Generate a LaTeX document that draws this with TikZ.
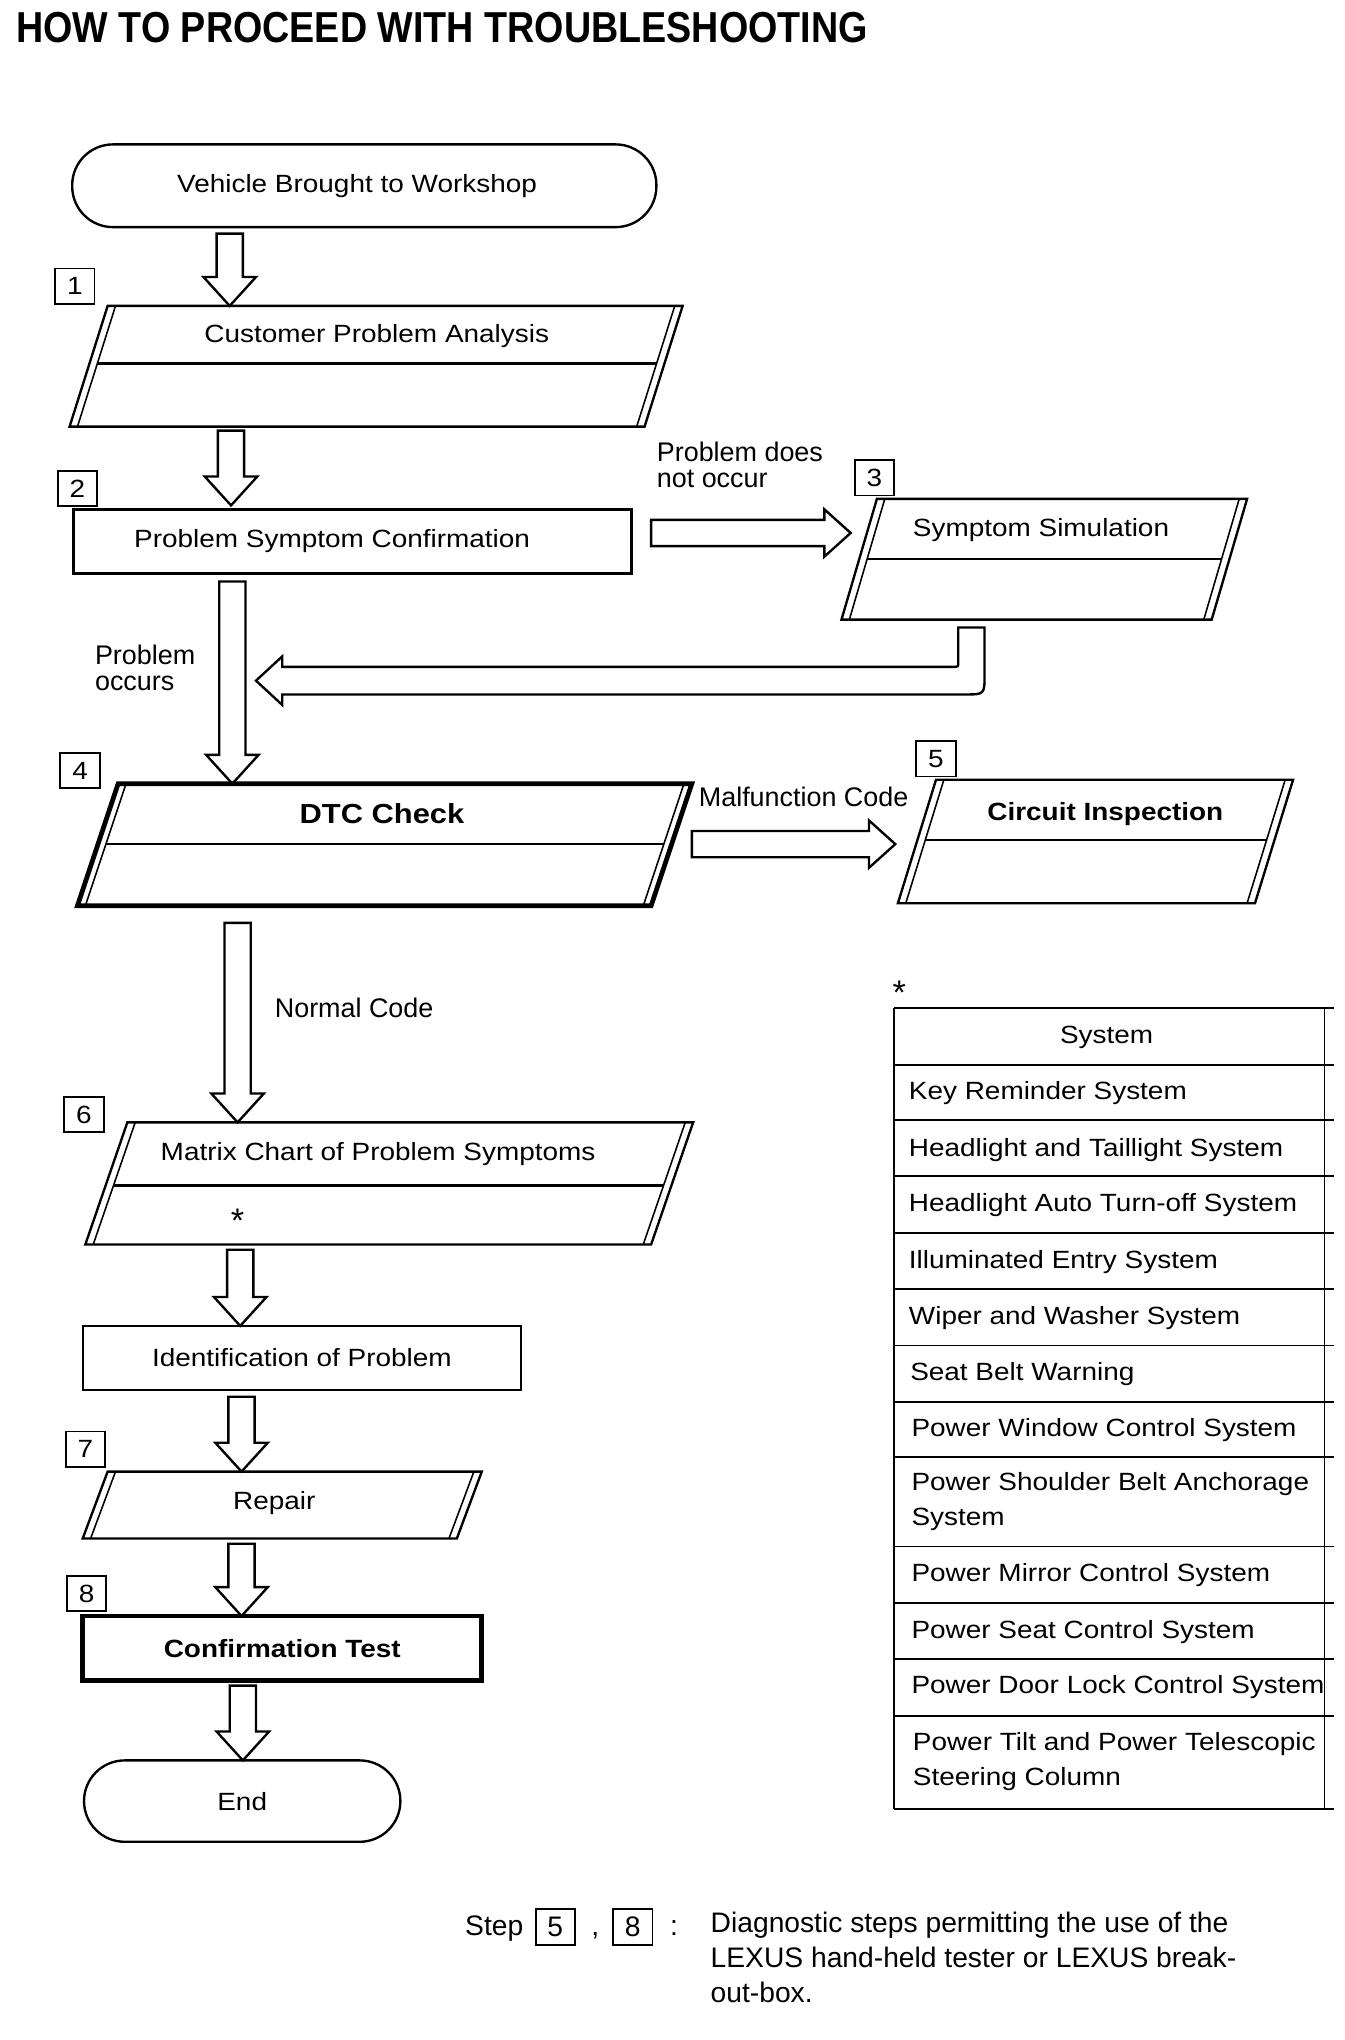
\documentclass[tikz,border=0pt]{standalone}
\usepackage{fontspec}
\setmainfont{Liberation Sans}
\newfontfamily\bodyf[FakeStretch=1.12]{Liberation Sans}
\newfontfamily\titlef[FakeStretch=0.87]{Liberation Sans}
\usetikzlibrary{calc}
\tikzset{
 box/.style={draw=black, line width=0.9pt},
 thickbox/.style={draw=black, line width=1.8pt},
 innerl/.style={draw=black, line width=0.6pt},
 blk/.style={draw=black, line width=0.9pt, fill=white, line join=miter},
 txt/.style={inner sep=0pt, font=\bodyf\fontsize{9.5pt}{11pt}\selectfont},
 btxt/.style={inner sep=0pt, font=\bodyf\bfseries\fontsize{9.5pt}{11pt}\selectfont},
 lbl/.style={inner sep=0pt, anchor=west, align=left, font=\fontsize{10.25pt}{11pt}\selectfont},
 numbox/.style={draw, line width=0.7pt, minimum width=15pt, minimum height=13.5pt, inner sep=0pt, font=\bodyf\fontsize{9.5pt}{11pt}\selectfont},
 cell/.style={anchor=west, inner sep=0pt, align=left, font=\bodyf\fontsize{9.5pt}{13.5pt}\selectfont},
 tline/.style={line width=0.7pt},
 ftfont/.style={font=\fontsize{10.75pt}{13.25pt}\selectfont},
}
\newcommand\vblk[2]{\draw[blk] let \p1=(#1), \p2=(#2) in (\x1-5pt,\y1) -- (\x1+5pt,\y1) -- (\x1+5pt,\y2+11pt) -- (\x1+10pt,\y2+11pt) -- (\x1,\y2) -- (\x1-10pt,\y2+11pt) -- (\x1-5pt,\y2+11pt) -- cycle;}
\newcommand\hblk[2]{\draw[blk] let \p1=(#1), \p2=(#2) in (\x1,\y1+5pt) -- (\x2-10pt,\y1+5pt) -- (\x2-10pt,\y1+9pt) -- (\x2,\y1) -- (\x2-10pt,\y1-9pt) -- (\x2-10pt,\y1-5pt) -- (\x1,\y1-5pt) -- cycle;}
% name, xtl, ytop, xtr, ybot, slant, style
\newcommand\paral[7]{%
  \coordinate (#1tl) at (#2,#3);
  \coordinate (#1tr) at (#4,#3);
  \coordinate (#1br) at (#4-#6,#5);
  \coordinate (#1bl) at (#2-#6,#5);
  \coordinate (#1itl) at (#2+6,#3);
  \coordinate (#1ibl) at (#2+6-#6,#5);
  \coordinate (#1itr) at (#4-6,#3);
  \coordinate (#1ibr) at (#4-6-#6,#5);
  \draw[#7] (#1tl) -- (#1tr) -- (#1br) -- (#1bl) -- cycle;
  \draw[innerl] (#1itl) -- (#1ibl) (#1itr) -- (#1ibr);
}
\newcommand\pdiv[3]{\draw[#3] ($(#1itl)!#2!(#1ibl)$) -- ($(#1itr)!#2!(#1ibr)$);}
\begin{document}
\begin{tikzpicture}[x=0.5pt,y=-0.5pt]
\fill[white] (0,0) rectangle (1024,1554);
\useasboundingbox (0,0) rectangle (1024,1554);

% title
\node[inner sep=0pt, anchor=west, font=\titlef\bfseries\fontsize{16.5pt}{18pt}\selectfont] (title) at (12,21) {HOW TO PROCEED WITH TROUBLESHOOTING};

% start
\node[box, rounded corners=15.5pt, minimum width=222.5pt, minimum height=31.5pt, inner sep=0pt] (veh) at (277.5,141.5) {};
\node[txt] (veht) at (272,142) {Vehicle Brought to Workshop};

% step 1
\node[numbox] (n1) at (57,218) {1};
\paral{p1}{82}{233}{520}{325}{29}{box}
\pdiv{p1}{0.478}{box}
\node[txt] (p1t) at (287,256) {Customer Problem Analysis};
\coordinate (a1s) at (175,178); \coordinate (a1e) at (175,233);
\vblk{a1s}{a1e}

% step 2
\node[numbox] (n2) at (59,372) {2};
\node[box, minimum width=212.5pt, minimum height=24.5pt, inner sep=0pt] (r2) at (268.5,412.5) {};
\node[txt] (r2t) at (253,412) {Problem Symptom Confirmation};
\coordinate (a2s) at (176,328); \coordinate (a2e) at (176,385);
\vblk{a2s}{a2e}

% step 3
\node[lbl] (ldoes) at (500,354) {Problem does\\[-1.2pt]not occur};
\node[numbox] (n3) at (666,364) {3};
\paral{p3}{668}{380}{950}{472}{27}{box}
\pdiv{p3}{0.5}{box}
\node[txt] (p3t) at (793,404) {Symptom Simulation};
\coordinate (a3s) at (496,406); \coordinate (a3e) at (648,406);
\hblk{a3s}{a3e}

% return from 3
\coordinate (rs) at (740,478); \coordinate (re) at (195,518.5);
\draw[blk] (750,478) -- (750,514) .. controls (750,529) .. (735,529) -- (215,529) -- (215,537) -- (re) -- (215,500) -- (215,508) -- (726,508) .. controls (730,508) .. (730,504) -- (730,478) -- cycle;
\node[lbl] (locc) at (72,509) {Problem\\[-1.2pt]occurs};

% main arrow to 4
\coordinate (a4s) at (177,443); \coordinate (a4e) at (177,597);
\vblk{a4s}{a4e}

% step 4
\node[numbox] (n4) at (61,587) {4};
\paral{p4}{90}{597}{527}{690}{31}{thickbox}
\pdiv{p4}{0.495}{box}
\node[btxt, font=\bodyf\bfseries\fontsize{10.5pt}{12pt}\selectfont] (p4t) at (291,620) {DTC Check};

% step 5
\node[lbl] (lmal) at (532,607) {Malfunction Code};
\coordinate (a5s) at (527,643); \coordinate (a5e) at (682,643);
\hblk{a5s}{a5e}
\node[numbox] (n5) at (713,578) {5};
\paral{p5}{713}{594}{985}{688}{29}{box}
\pdiv{p5}{0.49}{box}
\node[btxt] (p5t) at (842,620) {Circuit Inspection};

% normal code
\coordinate (a6s) at (181,703); \coordinate (a6e) at (181,855);
\vblk{a6s}{a6e}
\node[lbl] (lnorm) at (209,768) {Normal Code};

% step 6
\node[numbox] (n6) at (64,849) {6};
\paral{p6}{97}{855}{528}{948}{32}{box}
\pdiv{p6}{0.516}{box}
\node[txt] (p6t) at (288,879) {Matrix Chart of Problem Symptoms};
\node[inner sep=0pt, font=\fontsize{13pt}{13pt}\selectfont] (p6s) at (181,930) {*};

% identification
\coordinate (a7s) at (183,952); \coordinate (a7e) at (183,1010);
\vblk{a7s}{a7e}
\node[box, minimum width=167pt, minimum height=24.5pt, inner sep=0pt, txt] (r7) at (230,1034.5) {Identification of Problem};

% step 7
\coordinate (a8s) at (184,1064); \coordinate (a8e) at (184,1121);
\vblk{a8s}{a8e}
\node[numbox] (n7) at (65,1104) {7};
\paral{p8}{82}{1121}{367}{1172}{19}{box}
\node[txt] (p8t) at (209,1145) {Repair};

% step 8
\coordinate (a9s) at (184,1176); \coordinate (a9e) at (184,1231);
\vblk{a9s}{a9e}
\node[numbox] (n8) at (66,1214) {8};
\node[thickbox, minimum width=152pt, minimum height=24.5pt, inner sep=0pt, btxt] (r9) at (215,1255.5) {Confirmation Test};

% end
\coordinate (a10s) at (185,1284); \coordinate (a10e) at (185,1341);
\vblk{a10s}{a10e}
\node[box, rounded corners=15.5pt, minimum width=120.5pt, minimum height=31pt, inner sep=0pt, txt] (endn) at (184.5,1372) {End};

% table
\node[inner sep=0pt, font=\fontsize{13pt}{13pt}\selectfont] (tstar) at (685,756) {*};
\foreach \yy in {768,811,853,896,939,982,1025,1068,1110,1178,1221,1264,1307,1378}
  \draw[tline] (681,\yy) -- (1016,\yy);
\draw[line width=1.1pt] (681,768) -- (681,1378);
\draw[tline] (1009,768) -- (1009,1378);
\node[txt] (th) at (843,790) {System};
\node[cell] (c1) at (692,833) {Key Reminder System};
\node[cell] (c2) at (692,876) {Headlight and Taillight System};
\node[cell] (c3) at (692,918) {Headlight Auto Turn-off System};
\node[cell] (c4) at (692,961) {Illuminated Entry System};
\node[cell] (c5) at (692,1004) {Wiper and Washer System};
\node[cell] (c6) at (693,1047) {Seat Belt Warning};
\node[cell] (c7) at (694,1089) {Power Window Control System};
\node[cell] (c8) at (694,1144) {Power Shoulder Belt Anchorage\\System};
\node[cell] (c9) at (694,1200) {Power Mirror Control System};
\node[cell] (c10) at (694,1243) {Power Seat Control System};
\node[cell] (c11) at (694,1285) {Power Door Lock Control System};
\node[cell] (c12) at (695,1342) {Power Tilt and Power Telescopic\\Steering Column};

% footer
\node[inner sep=0pt, anchor=base west, ftfont] (fstep) at (354,1474) {Step};
\node[numbox, ftfont] (f5) at (423,1468) {5};
\node[inner sep=0pt, anchor=base west, ftfont] (fcomma) at (450,1474) {,};
\node[numbox, ftfont] (f8) at (482,1468) {8};
\node[inner sep=0pt, anchor=base west, ftfont] (fcolon) at (510,1474) {:};
\node[lbl, ftfont] (ftext) at (541,1491) {Diagnostic steps permitting the use of the\\LEXUS hand-held tester or LEXUS break-\\out-box.};
\end{tikzpicture}
\end{document}
